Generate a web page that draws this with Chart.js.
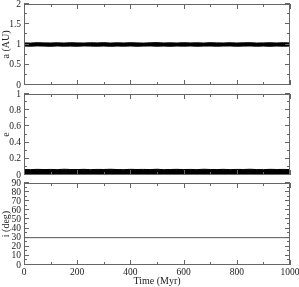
<!DOCTYPE html>
<html><head><meta charset="utf-8">
<script src="https://cdn.jsdelivr.net/npm/chart.js@4"></script>
<style>
html,body{margin:0;padding:0;background:#fff;width:299px;height:287px;overflow:hidden}
canvas{position:absolute;left:0;top:0}
</style></head>
<body>
<canvas id="ca" width="299" height="287"></canvas>
<canvas id="ce" width="299" height="287"></canvas>
<canvas id="ci" width="299" height="287"></canvas>
<script>
// ---- data ----
const timeMyr = [0,25,50,75,100,125,150,175,200,225,250,275,300,325,350,375,400,425,450,475,500,525,550,575,600,625,650,675,700,725,750,775,800,825,850,875,900,925,950,975,1000];
const aUpper = [1.040,1.035,1.045,1.040,1.038,1.042,1.036,1.044,1.040,1.037,1.043,1.039,1.045,1.036,1.041,1.038,1.044,1.040,1.035,1.042,1.046,1.038,1.041,1.037,1.044,1.039,1.042,1.036,1.045,1.040,1.038,1.043,1.037,1.041,1.044,1.036,1.040,1.042,1.038,1.043,1.040];
const aLower = [0.962,0.958,0.965,0.960,0.956,0.963,0.959,0.961,0.957,0.964,0.960,0.958,0.962,0.955,0.961,0.959,0.963,0.957,0.960,0.964,0.958,0.961,0.956,0.962,0.959,0.963,0.957,0.960,0.962,0.958,0.961,0.964,0.957,0.960,0.963,0.958,0.961,0.956,0.962,0.959,0.960];
const eUpper = [0.068,0.066,0.070,0.067,0.069,0.066,0.071,0.068,0.067,0.070,0.066,0.069,0.068,0.071,0.067,0.066,0.070,0.068,0.069,0.067,0.071,0.066,0.068,0.070,0.067,0.069,0.066,0.071,0.068,0.067,0.070,0.066,0.069,0.068,0.071,0.067,0.066,0.070,0.068,0.069,0.067];
const eLower = [0.003,0.002,0.004,0.003,0.002,0.004,0.003,0.002,0.003,0.004,0.002,0.003,0.004,0.002,0.003,0.003,0.002,0.004,0.003,0.002,0.004,0.003,0.002,0.003,0.004,0.002,0.003,0.004,0.002,0.003,0.003,0.002,0.004,0.003,0.002,0.004,0.003,0.002,0.003,0.004,0.003];
const iTime = [0,1000];
const iDeg = [30,30];
const xTickStep = 200, xMinorStep = 100;
const aTicks = {min:0, max:2, step:0.5, minor:0.25};
const eTicks = {min:0, max:1, step:0.2, minor:0.1};
const iTicks = {min:0, max:90, step:10, minor:5};

const TFONT = {family:'"Liberation Serif","DejaVu Serif",serif', size:9.5};
const FONT = {family:'"Liberation Serif","DejaVu Serif",serif', size:10};
const TXT = '#222';
const FRAME = '#666';
const fmt = v => String(Math.round(v * 1000) / 1000);

const frameTicks = {
  id:'frameTicks',
  afterDraw(chart, args, o){
    const {ctx, chartArea:{left,right,top,bottom}, scales:{x,y}} = chart;
    ctx.save();
    ctx.strokeStyle = FRAME; ctx.lineWidth = 1;
    ctx.strokeRect(left+0.5, top+0.5, right-left-1, bottom-top-1);
    ctx.beginPath();
    for (let v = 0; v <= 1000 + 1e-9; v += xMinorStep) {
      const px = Math.round(x.getPixelForValue(v)) + 0.5;
      const len = (Math.round(v) % xTickStep === 0) ? 5 : 3;
      ctx.moveTo(px, bottom); ctx.lineTo(px, bottom - len);
      ctx.moveTo(px, top); ctx.lineTo(px, top + len);
    }
    const t = o.t;
    const n = Math.round((t.max - t.min) / t.minor);
    const per = Math.round(t.step / t.minor);
    for (let k = 0; k <= n; k++) {
      const v = t.min + k * t.minor;
      const py = Math.round(y.getPixelForValue(v)) - 0.5;
      const len = (k % per === 0) ? 5 : 3;
      ctx.moveTo(left, py); ctx.lineTo(left + len, py);
      ctx.moveTo(right, py); ctx.lineTo(right - len, py);
    }
    ctx.stroke();
    ctx.restore();
  }
};

function yScale(t, title){
  return {
    type:'linear', min:t.min, max:t.max,
    grid:{display:false, drawTicks:false, tickLength:0},
    border:{display:false},
    ticks:{stepSize:t.step, font:TFONT, color:TXT, padding:3, callback:fmt, autoSkip:false},
    title:{display:true, text:title, font:FONT, color:TXT, padding:{top:0,bottom:0}},
    afterFit(s){ s.width = 24; s.paddingTop = 0; s.paddingBottom = 0; }
  };
}
function xScale(show){
  return {
    type:'linear', min:0, max:1000, display:show,
    grid:{display:false, drawTicks:false, tickLength:0},
    border:{display:false},
    ticks:{stepSize:xTickStep, font:TFONT, color:TXT, padding:2, maxRotation:0, callback:fmt, autoSkip:false},
    title:{display:show, text:'Time (Myr)', font:FONT, color:TXT, padding:0},
    afterFit(s){ if (show) { s.height = 22; s.paddingLeft = 0; s.paddingRight = 0; } }
  };
}
function bandSets(lower, upper){
  return [
    {data: lower.map((v,i)=>({x:timeMyr[i], y:v})), borderColor:'#000', borderWidth:1, pointRadius:0, fill:false},
    {data: upper.map((v,i)=>({x:timeMyr[i], y:v})), borderColor:'#000', borderWidth:1, pointRadius:0, fill:'-1', backgroundColor:'#000'}
  ];
}
const common = {responsive:false, animation:false, devicePixelRatio:1, plugins:{legend:{display:false}, tooltip:{enabled:false}}};

new Chart(document.getElementById('ca'), {
  type:'line',
  data:{datasets: bandSets(aLower, aUpper)},
  options:{...common, layout:{padding:{left:0, right:9, top:4, bottom:202}},
    plugins:{...common.plugins, frameTicks:{t:aTicks}},
    scales:{x:xScale(false), y:yScale(aTicks,'a (AU)')}},
  plugins:[frameTicks]
});
new Chart(document.getElementById('ce'), {
  type:'line',
  data:{datasets: bandSets(eLower, eUpper)},
  options:{...common, layout:{padding:{left:0, right:9, top:94, bottom:112}},
    plugins:{...common.plugins, frameTicks:{t:eTicks}},
    scales:{x:xScale(false), y:yScale(eTicks,'e')}},
  plugins:[frameTicks]
});
new Chart(document.getElementById('ci'), {
  type:'line',
  data:{datasets:[{data: iDeg.map((v,i)=>({x:iTime[i], y:v})), borderColor:'#555', borderWidth:1, pointRadius:0, fill:false}]},
  options:{...common, layout:{padding:{left:0, right:9, top:183, bottom:0}},
    plugins:{...common.plugins, frameTicks:{t:iTicks}},
    scales:{x:xScale(true), y:yScale(iTicks,'i (deg)')}},
  plugins:[frameTicks]
});
</script>
</body></html>
